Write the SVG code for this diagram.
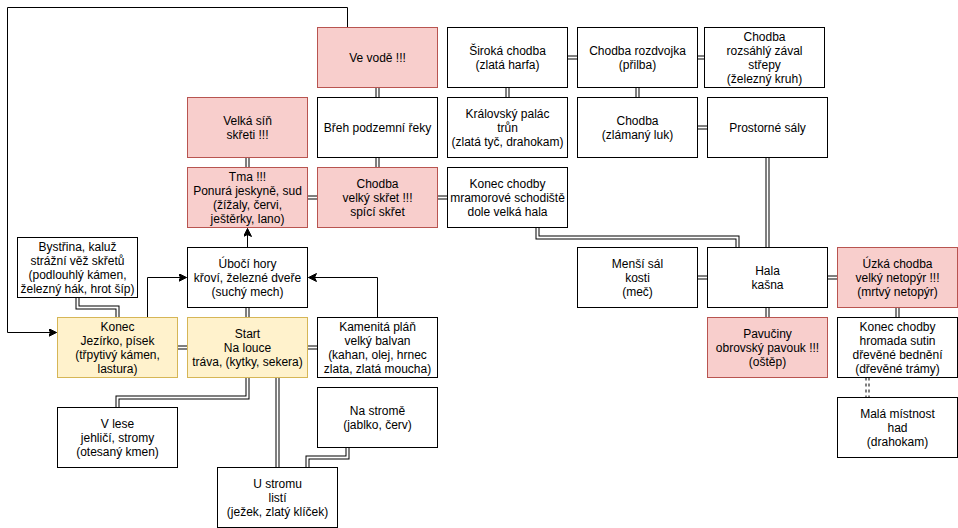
<svg xmlns="http://www.w3.org/2000/svg" xmlns:xlink="http://www.w3.org/1999/xlink" width="958" height="528" viewBox="0 0 958 528">
<style>
.n{fill:#ffffff;stroke:#000000;stroke-width:1}
.p{fill:#f8cecc;stroke:#b85450;stroke-width:1}
.y{fill:#fff2cc;stroke:#d6b656;stroke-width:1}
text{font-family:"Liberation Sans",Arial,Helvetica,sans-serif;font-size:12px;fill:#000000;text-anchor:middle}
.lk{fill:none;stroke:#000000;stroke-width:4;stroke-linejoin:miter}
.lw{fill:none;stroke:#ffffff;stroke-width:2;stroke-linejoin:miter}
.dk{fill:none;stroke:#000000;stroke-width:4;stroke-dasharray:3 3}
.ar{fill:none;stroke:#000000;stroke-width:1}
</style>
<defs>
<marker id="ah" markerUnits="userSpaceOnUse" markerWidth="10" markerHeight="10" refX="8" refY="4" orient="auto">
<path d="M0,0 L8,4 L0,8 L2,4 Z" fill="#000000" stroke="#000000" stroke-width="1"/>
</marker>
<path id="c1" d="M377.5,87.5 V97.5"/>
<path id="c2" d="M377.5,157.5 V167.5"/>
<path id="c3" d="M247.5,157.5 V167.5"/>
<path id="c4" d="M307.5,197.5 H317.5"/>
<path id="c5" d="M437.5,197.5 H447.5"/>
<path id="c6" d="M567.5,57.5 H577.5"/>
<path id="c7" d="M697.5,57.5 H704"/>
<path id="c8" d="M507.5,87.5 V97.5"/>
<path id="c9" d="M637.5,87.5 V97.5"/>
<path id="c10" d="M697.5,127.5 H707.5"/>
<path id="c11" d="M767.5,157.5 V247.5"/>
<path id="c12" d="M537.5,227.5 V237.5 H737.5 V247.5"/>
<path id="c13" d="M697.5,277.5 H707.5"/>
<path id="c14" d="M827.5,277.5 H837.5"/>
<path id="c15" d="M767.5,307.5 V317.5"/>
<path id="c16" d="M897.5,307.5 V317.5"/>
<path id="c17" d="M77.5,297.5 V307.5 H117.5 V317.5"/>
<path id="c18" d="M247.5,307.5 V317.5"/>
<path id="c19" d="M177.5,347.5 H187.5"/>
<path id="c20" d="M307.5,347.5 H317.5"/>
<path id="c21" d="M247.5,377.5 V397.5 H117.5 V407.5"/>
<path id="c22" d="M277.5,377.5 V467.5"/>
<path id="c23" d="M347.5,447.5 V457.5 H307.5 V467.5"/>
<path id="c24" d="M867.5,377.5 V397.5"/>
</defs>
<g id="connectors">
<use xlink:href="#c1" class="lk"/><use xlink:href="#c1" class="lw"/>
<use xlink:href="#c2" class="lk"/><use xlink:href="#c2" class="lw"/>
<use xlink:href="#c3" class="lk"/><use xlink:href="#c3" class="lw"/>
<use xlink:href="#c4" class="lk"/><use xlink:href="#c4" class="lw"/>
<use xlink:href="#c5" class="lk"/><use xlink:href="#c5" class="lw"/>
<use xlink:href="#c6" class="lk"/><use xlink:href="#c6" class="lw"/>
<use xlink:href="#c7" class="lk"/><use xlink:href="#c7" class="lw"/>
<use xlink:href="#c8" class="lk"/><use xlink:href="#c8" class="lw"/>
<use xlink:href="#c9" class="lk"/><use xlink:href="#c9" class="lw"/>
<use xlink:href="#c10" class="lk"/><use xlink:href="#c10" class="lw"/>
<use xlink:href="#c11" class="lk"/><use xlink:href="#c11" class="lw"/>
<use xlink:href="#c12" class="lk"/><use xlink:href="#c12" class="lw"/>
<use xlink:href="#c13" class="lk"/><use xlink:href="#c13" class="lw"/>
<use xlink:href="#c14" class="lk"/><use xlink:href="#c14" class="lw"/>
<use xlink:href="#c15" class="lk"/><use xlink:href="#c15" class="lw"/>
<use xlink:href="#c16" class="lk"/><use xlink:href="#c16" class="lw"/>
<use xlink:href="#c17" class="lk"/><use xlink:href="#c17" class="lw"/>
<use xlink:href="#c18" class="lk"/><use xlink:href="#c18" class="lw"/>
<use xlink:href="#c19" class="lk"/><use xlink:href="#c19" class="lw"/>
<use xlink:href="#c20" class="lk"/><use xlink:href="#c20" class="lw"/>
<use xlink:href="#c21" class="lk"/><use xlink:href="#c21" class="lw"/>
<use xlink:href="#c22" class="lk"/><use xlink:href="#c22" class="lw"/>
<use xlink:href="#c23" class="lk"/><use xlink:href="#c23" class="lw"/>
<use xlink:href="#c24" class="dk"/><use xlink:href="#c24" class="lw"/>
<path class="ar" d="M247.5,247.5 V228.5" marker-end="url(#ah)"/>
<path class="ar" d="M147.5,317.5 V277.5 H186.5" marker-end="url(#ah)"/>
<path class="ar" d="M377.5,317.5 V277.5 H308.5" marker-end="url(#ah)"/>
<path class="ar" d="M347.5,27.5 V7.5 H7.5 V332.5 H56.5" marker-end="url(#ah)"/>
</g>
<g id="ve_vode"><rect class="p" x="317.5" y="27.5" width="120" height="60"/><text x="377.5" y="61.5">Ve vodě !!!</text></g>
<g id="velka_sin"><rect class="p" x="187.5" y="97.5" width="120" height="60"/><text x="247.5" y="124.5"><tspan x="247.5">Velká síň</tspan><tspan x="247.5" dy="14">skřeti !!!</tspan></text></g>
<g id="breh"><rect class="n" x="317.5" y="97.5" width="120" height="60"/><text x="377.5" y="131.5">Břeh podzemní řeky</text></g>
<g id="tma"><rect class="p" x="187.5" y="167.5" width="120" height="60"/><text x="247.5" y="180.5"><tspan x="247.5">Tma !!!</tspan><tspan x="247.5" dy="14">Ponurá jeskyně, sud</tspan><tspan x="247.5" dy="14">(žížaly, červi,</tspan><tspan x="247.5" dy="14">ještěrky, lano)</tspan></text></g>
<g id="chodba_skret"><rect class="p" x="317.5" y="167.5" width="120" height="60"/><text x="377.5" y="187.5"><tspan x="377.5">Chodba</tspan><tspan x="377.5" dy="14">velký skřet !!!</tspan><tspan x="377.5" dy="14">spící skřet</tspan></text></g>
<g id="siroka"><rect class="n" x="447.5" y="27.5" width="120" height="60"/><text x="507.5" y="54.5"><tspan x="507.5">Široká chodba</tspan><tspan x="507.5" dy="14">(zlatá harfa)</tspan></text></g>
<g id="rozdvojka"><rect class="n" x="577.5" y="27.5" width="120" height="60"/><text x="637.5" y="54.5"><tspan x="637.5">Chodba rozdvojka</tspan><tspan x="637.5" dy="14">(přilba)</tspan></text></g>
<g id="zaval"><rect class="n" x="704.5" y="27.5" width="120" height="60"/><text x="764.5" y="40.5"><tspan x="764.5">Chodba</tspan><tspan x="764.5" dy="14">rozsáhlý zával</tspan><tspan x="764.5" dy="14">střepy</tspan><tspan x="764.5" dy="14">(železný kruh)</tspan></text></g>
<g id="kralovsky"><rect class="n" x="447.5" y="97.5" width="120" height="60"/><text x="507.5" y="117.5"><tspan x="507.5">Královský palác</tspan><tspan x="507.5" dy="14">trůn</tspan><tspan x="507.5" dy="14">(zlatá tyč, drahokam)</tspan></text></g>
<g id="zlamany"><rect class="n" x="577.5" y="97.5" width="120" height="60"/><text x="637.5" y="124.5"><tspan x="637.5">Chodba</tspan><tspan x="637.5" dy="14">(zlámaný luk)</tspan></text></g>
<g id="prostorne"><rect class="n" x="707.5" y="97.5" width="120" height="60"/><text x="767.5" y="131.5">Prostorné sály</text></g>
<g id="mramor"><rect class="n" x="447.5" y="167.5" width="120" height="60"/><text x="507.5" y="187.5"><tspan x="507.5">Konec chodby</tspan><tspan x="507.5" dy="14">mramorové schodiště</tspan><tspan x="507.5" dy="14">dole velká hala</tspan></text></g>
<g id="bystrina"><rect class="n" x="17.5" y="237.5" width="120" height="60"/><text x="77.5" y="250.5"><tspan x="77.5">Bystřina, kaluž</tspan><tspan x="77.5" dy="14">strážní věž skřetů</tspan><tspan x="77.5" dy="14">(podlouhlý kámen,</tspan><tspan x="77.5" dy="14">železný hák, hrot šíp)</tspan></text></g>
<g id="uboci"><rect class="n" x="187.5" y="247.5" width="120" height="60"/><text x="247.5" y="267.5"><tspan x="247.5">Úbočí hory</tspan><tspan x="247.5" dy="14">křoví, železné dveře</tspan><tspan x="247.5" dy="14">(suchý mech)</tspan></text></g>
<g id="konec"><rect class="y" x="57.5" y="317.5" width="120" height="60"/><text x="117.5" y="330.5"><tspan x="117.5">Konec</tspan><tspan x="117.5" dy="14">Jezírko, písek</tspan><tspan x="117.5" dy="14">(třpytivý kámen,</tspan><tspan x="117.5" dy="14">lastura)</tspan></text></g>
<g id="start"><rect class="y" x="187.5" y="317.5" width="120" height="60"/><text x="247.5" y="337.5"><tspan x="247.5">Start</tspan><tspan x="247.5" dy="14">Na louce</tspan><tspan x="247.5" dy="14">tráva, (kytky, sekera)</tspan></text></g>
<g id="kamenita"><rect class="n" x="317.5" y="317.5" width="120" height="60"/><text x="377.5" y="330.5"><tspan x="377.5">Kamenitá pláň</tspan><tspan x="377.5" dy="14">velký balvan</tspan><tspan x="377.5" dy="14">(kahan, olej, hrnec</tspan><tspan x="377.5" dy="14">zlata, zlatá moucha)</tspan></text></g>
<g id="v_lese"><rect class="n" x="57.5" y="407.5" width="120" height="60"/><text x="117.5" y="427.5"><tspan x="117.5">V lese</tspan><tspan x="117.5" dy="14">jehličí, stromy</tspan><tspan x="117.5" dy="14">(otesaný kmen)</tspan></text></g>
<g id="na_strome"><rect class="n" x="317.5" y="387.5" width="120" height="60"/><text x="377.5" y="414.5"><tspan x="377.5">Na stromě</tspan><tspan x="377.5" dy="14">(jablko, červ)</tspan></text></g>
<g id="u_stromu"><rect class="n" x="217.5" y="467.5" width="120" height="60"/><text x="277.5" y="487.5"><tspan x="277.5">U stromu</tspan><tspan x="277.5" dy="14">listí</tspan><tspan x="277.5" dy="14">(ježek, zlatý klíček)</tspan></text></g>
<g id="mensi_sal"><rect class="n" x="577.5" y="247.5" width="120" height="60"/><text x="637.5" y="267.5"><tspan x="637.5">Menší sál</tspan><tspan x="637.5" dy="14">kosti</tspan><tspan x="637.5" dy="14">(meč)</tspan></text></g>
<g id="hala"><rect class="n" x="707.5" y="247.5" width="120" height="60"/><text x="767.5" y="274.5"><tspan x="767.5">Hala</tspan><tspan x="767.5" dy="14">kašna</tspan></text></g>
<g id="uzka"><rect class="p" x="837.5" y="247.5" width="120" height="60"/><text x="897.5" y="267.5"><tspan x="897.5">Úzká chodba</tspan><tspan x="897.5" dy="14">velký netopýr !!!</tspan><tspan x="897.5" dy="14">(mrtvý netopýr)</tspan></text></g>
<g id="pavuciny"><rect class="p" x="707.5" y="317.5" width="120" height="60"/><text x="767.5" y="337.5"><tspan x="767.5">Pavučiny</tspan><tspan x="767.5" dy="14">obrovský pavouk !!!</tspan><tspan x="767.5" dy="14">(oštěp)</tspan></text></g>
<g id="konec_chodby"><rect class="n" x="837.5" y="317.5" width="120" height="60"/><text x="897.5" y="330.5"><tspan x="897.5">Konec chodby</tspan><tspan x="897.5" dy="14">hromada sutin</tspan><tspan x="897.5" dy="14">dřevěné bednění</tspan><tspan x="897.5" dy="14">(dřevěné trámy)</tspan></text></g>
<g id="mala_mistnost"><rect class="n" x="837.5" y="397.5" width="120" height="60"/><text x="897.5" y="417.5"><tspan x="897.5">Malá místnost</tspan><tspan x="897.5" dy="14">had</tspan><tspan x="897.5" dy="14">(drahokam)</tspan></text></g>
</svg>
